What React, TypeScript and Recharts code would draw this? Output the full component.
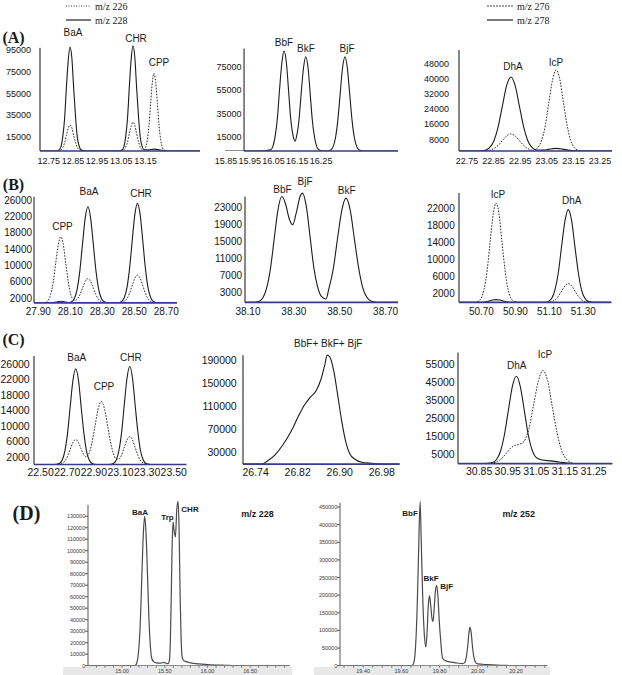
import React from 'react';
import { LineChart, Line, XAxis, YAxis, ReferenceLine } from 'recharts';

type Pt = [number, number];

const SANS = '"Liberation Sans", Arial, Helvetica, sans-serif';
const SERIF = '"Liberation Serif", "Times New Roman", serif';

// ---------------- Row A ----------------
const a1XTicks = [12.75, 12.85, 12.95, 13.05, 13.15];
const a1YTicks = [15000, 35000, 55000, 75000, 95000];
const a1M228: Pt[] = [[12.714,1800],[12.78,1800],[12.793,2870],[12.801,6010],[12.808,14790],[12.816,32970],[12.823,60020],[12.831,86520],[12.838,97800],[12.846,86520],[12.853,60020],[12.861,32970],[12.868,14790],[12.876,6010],[12.883,2870],[12.9,1800],[13.04,1800],[13.053,2880],[13.061,6070],[13.068,14950],[13.076,33360],[13.083,60750],[13.091,87580],[13.098,99000],[13.106,87580],[13.113,60750],[13.121,33360],[13.128,14950],[13.136,6070],[13.143,2900],[13.16,2800],[13.185,3500],[13.21,2700],[13.24,1800],[13.375,1800]];
const a1M226: Pt[] = [[12.714,1800],[12.78,1800],[12.793,2070],[12.801,2850],[12.808,5050],[12.816,9590],[12.823,16360],[12.831,22980],[12.838,25800],[12.846,22980],[12.853,16360],[12.861,9590],[12.868,5050],[12.876,2850],[12.883,2070],[12.9,1800],[13.04,1800],[13.053,2090],[13.061,2960],[13.068,5390],[13.076,10410],[13.083,17870],[13.091,25190],[13.098,28300],[13.106,25190],[13.113,17870],[13.121,10410],[13.128,5390],[13.136,3120],[13.143,2890],[13.15,5020],[13.157,11510],[13.164,25110],[13.171,45350],[13.178,65160],[13.185,73600],[13.192,65160],[13.199,45350],[13.206,25110],[13.213,11510],[13.22,4950],[13.227,2600],[13.24,1800],[13.375,1800]];

const a2XTicks = [15.85, 15.95, 16.05, 16.15, 16.25];
const a2YTicks = [15000, 35000, 55000, 75000];
const a2M252: Pt[] = [[15.846,2700],[16.0,2700],[16.037,3650],[16.047,6470],[16.056,14300],[16.066,30500],[16.075,54700],[16.085,78300],[16.094,88400],[16.104,78300],[16.113,54800],[16.122,30800],[16.132,15900],[16.14,11000],[16.147,15400],[16.157,29300],[16.166,51700],[16.176,74000],[16.185,83500],[16.195,74000],[16.204,51700],[16.213,29000],[16.223,13600],[16.232,6200],[16.242,3600],[16.26,2700],[16.28,2700],[16.29,3600],[16.3,6250],[16.31,13600],[16.32,28900],[16.33,51700],[16.34,74000],[16.35,83500],[16.36,74000],[16.37,51700],[16.38,28900],[16.39,13600],[16.4,6250],[16.41,3600],[16.43,2700],[16.573,2700]];

const a3XTicks = [22.75, 22.85, 22.95, 23.05, 23.15, 23.25];
const a3YTicks = [8000, 16000, 24000, 32000, 40000, 48000];
const a3M278: Pt[] = [[22.72,1900],[22.8,1900],[22.819,2330],[22.835,3610],[22.851,7160],[22.867,14530],[22.883,25490],[22.899,36230],[22.915,40800],[22.931,36230],[22.947,25490],[22.963,14530],[22.979,7160],[22.995,3610],[23.011,2400],[23.04,2360],[23.06,2900],[23.085,3300],[23.11,2900],[23.13,2360],[23.16,2000],[23.2,1900],[23.295,1900]];
const a3M276: Pt[] = [[22.72,1900],[22.8,1900],[22.819,2000],[22.835,2300],[22.851,3120],[22.867,4820],[22.883,7360],[22.899,9840],[22.915,10900],[22.931,9840],[22.947,7360],[22.963,4820],[22.979,3120],[22.995,2300],[23.004,2550],[23.017,3820],[23.031,7660],[23.045,15730],[23.058,27740],[23.072,39500],[23.085,44500],[23.099,39500],[23.112,27740],[23.126,15730],[23.139,7660],[23.153,3770],[23.166,2370],[23.19,1900],[23.295,1900]];

// ---------------- Row B ----------------
const b1XTicks = [27.9, 28.1, 28.3, 28.5, 28.7];
const b1YTicks = [2000, 6000, 10000, 14000, 18000, 22000, 26000];
const b1M228: Pt[] = [[27.873,800],[27.98,800],[28.01,1000],[28.04,1200],[28.07,1000],[28.09,850],[28.108,1060],[28.125,1830],[28.142,3990],[28.159,8450],[28.176,15090],[28.193,21590],[28.21,24360],[28.227,21590],[28.244,15090],[28.261,8450],[28.278,3990],[28.295,1830],[28.312,1060],[28.34,800],[28.4,800],[28.418,1070],[28.435,1870],[28.452,4100],[28.469,8720],[28.486,15600],[28.503,22330],[28.52,25200],[28.537,22330],[28.554,15600],[28.571,8720],[28.588,4100],[28.605,1870],[28.622,1070],[28.65,800],[28.767,800]];
const b1M226: Pt[] = [[27.873,800],[27.92,800],[27.947,980],[27.963,1510],[27.978,2990],[27.994,6060],[28.009,10630],[28.025,15100],[28.04,17000],[28.056,15100],[28.071,10630],[28.087,6060],[28.102,2990],[28.118,1665],[28.133,1440],[28.142,1675],[28.159,2732],[28.176,4409],[28.193,6051],[28.21,6750],[28.227,6051],[28.244,4409],[28.261,2732],[28.278,1605],[28.295,1061],[28.312,866],[28.34,800],[28.4,800],[28.418,875],[28.435,1100],[28.452,1720],[28.469,3010],[28.486,4920],[28.503,6800],[28.52,7600],[28.537,6800],[28.554,4920],[28.571,3010],[28.588,1720],[28.605,1100],[28.622,875],[28.65,800],[28.767,800]];

const b2XTicks = [38.1, 38.3, 38.5, 38.7];
const b2YTicks = [3000, 7000, 11000, 15000, 19000, 23000];
const b2M252: Pt[] = [[38.087,600],[38.109,600],[38.139,700],[38.149,870],[38.165,1680],[38.181,3930],[38.198,8590],[38.214,15520],[38.23,22310],[38.247,25700],[38.263,24100],[38.279,20550],[38.295,19000],[38.311,21960],[38.327,25710],[38.338,26500],[38.355,23100],[38.371,16000],[38.387,8850],[38.404,4200],[38.42,2000],[38.44,1400],[38.453,3940],[38.472,8620],[38.49,15580],[38.509,22400],[38.527,25300],[38.546,22400],[38.564,15580],[38.583,8620],[38.601,3940],[38.62,1680],[38.638,875],[38.658,650],[38.697,600],[38.754,600]];

const b3XTicks = [50.7, 50.9, 51.1, 51.3];
const b3YTicks = [2000, 6000, 10000, 14000, 18000, 22000];
const b3M276: Pt[] = [[50.568,0],[50.66,0],[50.681,260],[50.699,1020],[50.716,3150],[50.734,7570],[50.751,14130],[50.769,20560],[50.786,23300],[50.804,20560],[50.821,14130],[50.839,7570],[50.856,3150],[50.874,1020],[50.891,260],[50.92,0],[51.07,0],[51.094,50],[51.114,190],[51.133,600],[51.153,1430],[51.172,2670],[51.192,3880],[51.211,4400],[51.231,3880],[51.25,2670],[51.27,1430],[51.289,600],[51.309,190],[51.328,50],[51.36,0],[51.465,0]];
const b3M278: Pt[] = [[50.568,0],[50.7,0],[50.74,250],[50.765,550],[50.786,650],[50.81,550],[50.835,250],[50.87,0],[51.07,0],[51.094,240],[51.114,950],[51.133,2940],[51.153,7050],[51.172,13160],[51.192,19150],[51.211,21700],[51.231,19150],[51.25,13160],[51.27,7050],[51.289,2940],[51.309,950],[51.328,240],[51.36,0],[51.465,0]];

// ---------------- Row C ----------------
const c1XTicks = [22.5, 22.7, 22.9, 23.1, 23.3, 23.5];
const c1YTicks = [2000, 6000, 10000, 14000, 18000, 22000, 26000];
const c1M228: Pt[] = [[22.45,0],[22.6,0],[22.64,270],[22.661,1080],[22.681,3340],[22.702,8020],[22.722,14980],[22.743,21800],[22.763,24700],[22.784,21800],[22.804,14980],[22.825,8020],[22.845,3340],[22.866,1080],[22.886,270],[22.92,0],[23.01,0],[23.046,280],[23.067,1110],[23.087,3420],[23.108,8210],[23.128,15340],[23.149,22330],[23.169,25300],[23.19,22330],[23.21,15340],[23.231,8210],[23.251,3420],[23.272,1110],[23.292,280],[23.33,0],[23.595,0]];
const c1M226: Pt[] = [[22.45,0],[22.6,0],[22.64,70],[22.661,280],[22.681,870],[22.702,2090],[22.722,3910],[22.743,5690],[22.763,6450],[22.784,5690],[22.804,4020],[22.825,2480],[22.845,1990],[22.86,2590],[22.884,5360],[22.908,9860],[22.932,14340],[22.956,16250],[22.98,14340],[23.004,9860],[23.028,5300],[23.046,2880],[23.067,1440],[23.087,1360],[23.108,2450],[23.128,4370],[23.149,6350],[23.169,7200],[23.19,6350],[23.21,4370],[23.231,2340],[23.251,970],[23.272,320],[23.292,80],[23.33,0],[23.595,0]];

const c2XTicks = [26.74, 26.82, 26.9, 26.98];
const c2YTicks = [30000, 70000, 110000, 150000, 190000];
const c2M252: Pt[] = [[26.716,10000],[26.752,10000],[26.763,15700],[26.777,26000],[26.792,43300],[26.807,65700],[26.82,89900],[26.832,110600],[26.843,124400],[26.855,136500],[26.864,155500],[26.872,183100],[26.876,198000],[26.881,195200],[26.889,169300],[26.896,129600],[26.904,83000],[26.912,46700],[26.919,27800],[26.929,18300],[26.942,13100],[26.961,11400],[26.986,10000],[27.014,10000]];

const c3XTicks = [30.85, 30.95, 31.05, 31.15, 31.25];
const c3YTicks = [5000, 15000, 25000, 35000, 45000, 55000];
const c3M278: Pt[] = [[30.776,0],[30.87,0],[30.896,540],[30.91,2130],[30.924,6560],[30.938,15750],[30.952,29420],[30.966,42800],[30.98,48500],[30.994,42800],[31.008,29420],[31.022,15750],[31.036,7200],[31.05,3300],[31.07,2000],[31.1,1500],[31.13,900],[31.16,300],[31.19,0],[31.316,0]];
const c3M276: Pt[] = [[30.776,0],[30.86,0],[30.88,60],[30.9,420],[30.915,1290],[30.93,3080],[30.945,5760],[30.96,8540],[30.975,10120],[30.99,10650],[31.007,12360],[31.024,19310],[31.04,32260],[31.057,45860],[31.073,51700],[31.09,45630],[31.106,31360],[31.123,16790],[31.139,7000],[31.156,2270],[31.172,570],[31.19,0],[31.316,0]];

// ---------------- Row D ----------------
const d1XTicks = [14.7,14.8,14.9,15.0,15.1,15.2,15.3,15.4,15.5,15.6,15.7,15.8,15.9,16.0,16.1,16.2,16.3,16.4,16.5,16.6,16.7,16.8,16.9];
const d1XLabels = [15.0, 15.5, 16.0, 16.5];
const d1YTicks = [0,10000,20000,30000,40000,50000,60000,70000,80000,90000,100000,110000,120000,130000];
const d1M228: Pt[] = [[14.601,0],[15.15,0],[15.17,1900],[15.183,5800],[15.199,17600],[15.216,42200],[15.232,78800],[15.249,114700],[15.265,130000],[15.281,114700],[15.298,78800],[15.314,42200],[15.331,17600],[15.347,6500],[15.37,3500],[15.4,2500],[15.45,2300],[15.49,2800],[15.53,1800],[15.545,2200],[15.555,5000],[15.565,20000],[15.575,55000],[15.585,100000],[15.597,125000],[15.61,117000],[15.625,112000],[15.64,135000],[15.655,143000],[15.668,118000],[15.68,60000],[15.692,22000],[15.705,7000],[15.72,4500],[15.75,3500],[15.8,2500],[15.9,1500],[16.0,1000],[16.2,400],[16.4,0],[16.963,0]];

const d2XTicks = [19.3,19.35,19.4,19.45,19.5,19.55,19.6,19.65,19.7,19.75,19.8,19.85,19.9,19.95,20.0,20.05,20.1,20.15,20.2,20.25,20.3,20.35];
const d2XLabels = [19.4, 19.6, 19.8, 20.0, 20.2];
const d2YTicks = [0,50000,100000,150000,200000,250000,300000,350000,400000,450000];
const d2M252: Pt[] = [[19.279,0],[19.6,0],[19.655,0],[19.665,8000],[19.675,60000],[19.683,170000],[19.69,320000],[19.698,466000],[19.705,330000],[19.712,190000],[19.72,90000],[19.728,53000],[19.735,100000],[19.741,170000],[19.747,198500],[19.753,175000],[19.76,135000],[19.766,125600],[19.772,165000],[19.779,215000],[19.785,227000],[19.791,200000],[19.798,130000],[19.806,70000],[19.815,22000],[19.83,14000],[19.86,10000],[19.893,7600],[19.92,6000],[19.93,8000],[19.94,25000],[19.948,60000],[19.954,95000],[19.959,108600],[19.965,95000],[19.971,60000],[19.979,25000],[19.99,8000],[20.0,5000],[20.05,3000],[20.1,1500],[20.16,500],[20.2,0],[20.364,0]];

// ---------------- Panel machinery ----------------
interface SeriesDef { pts: Pt[]; dotted?: boolean }
interface PanelDef {
  box: [number, number, number, number];
  xDomain: [number, number];
  yDomain: [number, number];
  xTicks: number[];
  yTicks: number[];
  xFmt: (v: number) => string;
  yAxisAt: number;
  yAxisTop: number;
  yLabelRight: number;
  xLabelCenter: number;
  fs: number;
  ms?: boolean;
  series: SeriesDef[];
}

const YW = 60, MT = 12, MR = 12, XH = 30;
const f2 = (v: number) => v.toFixed(2);
const fromSet = (set: number[]) => (v: number) => (set.some((s) => Math.abs(s - v) < 1e-6) ? v.toFixed(2) : '');

function Panel({ d }: { d: PanelDef }) {
  const [l, r, t, b] = d.box;
  const w = r - l + YW + MR;
  const h = b - t + MT + XH;
  const ox = l - YW;
  const oy = t - MT;
  const textColor = d.ms ? '#3a3a3a' : '#151515';
  const yTick = (props: any) => (
    <text x={d.yLabelRight - ox} y={props.y + d.fs * 0.36} textAnchor="end" fontSize={d.fs} fontFamily={SANS} fill={textColor}>
      {String(props.payload.value)}
    </text>
  );
  const xTick = (props: any) => {
    const s = d.xFmt(props.payload.value);
    if (!s) return <g />;
    return (
      <text x={props.x} y={d.xLabelCenter - oy + d.fs * 0.36} textAnchor="middle" fontSize={d.fs} fontFamily={SANS} fill={textColor}>
        {s}
      </text>
    );
  };
  const y0 = d.yDomain[0];
  return (
    <div style={{ position: 'absolute', left: ox, top: oy, width: w, height: h }}>
      <LineChart width={w} height={h} margin={{ top: MT, right: MR, bottom: 0, left: 0 }}>
        <XAxis
          type="number"
          dataKey="t"
          domain={d.xDomain}
          ticks={d.xTicks}
          interval={0}
          allowDataOverflow
          axisLine={false}
          tickLine={d.ms ? { stroke: '#777' } : false}
          tickSize={d.ms ? 2 : 0}
          height={XH}
          tick={xTick}
        />
        <YAxis
          type="number"
          domain={d.yDomain}
          ticks={d.yTicks}
          interval={0}
          allowDataOverflow
          width={YW}
          axisLine={false}
          tickLine={d.ms ? { stroke: '#555' } : false}
          tickSize={d.ms ? 3 : 0}
          tick={yTick}
        />
        {d.series.map((s, i) => (
          <Line
            key={i}
            data={s.pts.map(([tt, v]) => ({ t: tt, v }))}
            dataKey="v"
            type="monotone"
            stroke={d.ms ? '#4a4a4a' : s.dotted ? '#2c2c2c' : '#1c1c1c'}
            strokeWidth={d.ms ? 1.2 : s.dotted ? 1 : 1.1}
            strokeDasharray={s.dotted ? '1.6 1.4' : undefined}
            dot={false}
            activeDot={false}
            isAnimationActive={false}
          />
        ))}
        <ReferenceLine
          segment={[{ x: d.yAxisAt, y: y0 }, { x: d.yAxisAt, y: d.yAxisTop }]}
          stroke={d.ms ? '#555' : '#111'}
          strokeWidth={1}
          ifOverflow="visible"
        />
        <ReferenceLine
          segment={[{ x: d.yAxisAt, y: y0 }, { x: d.xDomain[1], y: y0 }]}
          stroke={d.ms ? '#777' : '#3a3a8a'}
          strokeWidth={d.ms ? 1 : 1.6}
          ifOverflow="visible"
        />
      </LineChart>
    </div>
  );
}

const panels: PanelDef[] = [
  { box: [40, 200, 42, 151], xDomain: [12.714, 13.375], yDomain: [1800, 102400], xTicks: a1XTicks, yTicks: a1YTicks, xFmt: f2, yAxisAt: 12.714, yAxisTop: 97000, yLabelRight: 31, xLabelCenter: 161, fs: 9, series: [{ pts: a1M226, dotted: true }, { pts: a1M228 }] },
  { box: [225, 398, 47, 151], xDomain: [15.846, 16.573], yDomain: [2700, 91800], xTicks: a2XTicks, yTicks: a2YTicks, xFmt: f2, yAxisAt: 15.926, yAxisTop: 90500, yLabelRight: 241.5, xLabelCenter: 161, fs: 9, series: [{ pts: a2M252 }] },
  { box: [459, 612, 50, 151], xDomain: [22.72, 23.295], yDomain: [1900, 55000], xTicks: a3XTicks, yTicks: a3YTicks, xFmt: f2, yAxisAt: 22.72, yAxisTop: 55000, yLabelRight: 449, xLabelCenter: 161, fs: 9, series: [{ pts: a3M276, dotted: true }, { pts: a3M278 }] },
  { box: [34, 177, 195.8, 302.7], xDomain: [27.873, 28.767], yDomain: [800, 27000], xTicks: b1XTicks, yTicks: b1YTicks, xFmt: f2, yAxisAt: 27.873, yAxisTop: 26800, yLabelRight: 32, xLabelCenter: 311.7, fs: 10, series: [{ pts: b1M226, dotted: true }, { pts: b1M228 }] },
  { box: [245, 398, 191.3, 302.7], xDomain: [38.087, 38.754], yDomain: [600, 27000], xTicks: b2XTicks, yTicks: b2YTicks, xFmt: f2, yAxisAt: 38.087, yAxisTop: 25700, yLabelRight: 242, xLabelCenter: 311.7, fs: 10, series: [{ pts: b2M252 }] },
  { box: [459.3, 611.7, 193.3, 302.7], xDomain: [50.568, 51.465], yDomain: [0, 25600], xTicks: b3XTicks, yTicks: b3YTicks, xFmt: f2, yAxisAt: 50.568, yAxisTop: 25600, yLabelRight: 455, xLabelCenter: 311.7, fs: 10, series: [{ pts: b3M276, dotted: true }, { pts: b3M278 }] },
  { box: [34.3, 186.7, 355.5, 464], xDomain: [22.45, 23.595], yDomain: [0, 28000], xTicks: c1XTicks, yTicks: c1YTicks, xFmt: f2, yAxisAt: 22.45, yAxisTop: 28000, yLabelRight: 30, xLabelCenter: 471.7, fs: 10.5, series: [{ pts: c1M226, dotted: true }, { pts: c1M228 }] },
  { box: [243.3, 400, 353.9, 464], xDomain: [26.716, 27.014], yDomain: [10000, 200000], xTicks: c2XTicks, yTicks: c2YTicks, xFmt: f2, yAxisAt: 26.716, yAxisTop: 198000, yLabelRight: 237, xLabelCenter: 471.7, fs: 10.5, series: [{ pts: c2M252 }] },
  { box: [458.3, 612.7, 352.4, 464], xDomain: [30.776, 31.316], yDomain: [0, 62000], xTicks: c3XTicks, yTicks: c3YTicks, xFmt: f2, yAxisAt: 30.776, yAxisTop: 61700, yLabelRight: 455, xLabelCenter: 471.7, fs: 10.5, series: [{ pts: c3M276, dotted: true }, { pts: c3M278 }] },
  { box: [88.3, 290, 499.3, 666], xDomain: [14.601, 16.963], yDomain: [0, 145000], xTicks: d1XTicks, yTicks: d1YTicks, xFmt: fromSet(d1XLabels), yAxisAt: 14.601, yAxisTop: 140000, yLabelRight: 85.5, xLabelCenter: 671, fs: 5.5, ms: true, series: [{ pts: d1M228 }] },
  { box: [340.3, 547.7, 500.3, 666], xDomain: [19.279, 20.364], yDomain: [0, 470000], xTicks: d2XTicks, yTicks: d2YTicks, xFmt: fromSet(d2XLabels), yAxisAt: 19.279, yAxisTop: 462000, yLabelRight: 337.5, xLabelCenter: 671, fs: 5.5, ms: true, series: [{ pts: d2M252 }] },
];

interface Note { s: string; x: number; y: number; fs: number; bold?: boolean; serif?: boolean; anchor?: 'start' | 'middle' }
const notes: Note[] = [
  { s: '(A)', x: 13.5, y: 37, fs: 16, bold: true, serif: true },
  { s: '(B)', x: 13.5, y: 184, fs: 16, bold: true, serif: true },
  { s: '(C)', x: 13.5, y: 339, fs: 16, bold: true, serif: true },
  { s: '(D)', x: 26.5, y: 512.5, fs: 20, bold: true, serif: true },
  { s: 'BaA', x: 73, y: 32, fs: 10 },
  { s: 'CHR', x: 136, y: 38, fs: 10 },
  { s: 'CPP', x: 159, y: 62, fs: 10 },
  { s: 'BbF', x: 284, y: 42, fs: 10 },
  { s: 'BkF', x: 306, y: 48, fs: 10 },
  { s: 'BjF', x: 347, y: 48, fs: 10 },
  { s: 'DhA', x: 513, y: 66, fs: 10 },
  { s: 'IcP', x: 556, y: 62, fs: 10 },
  { s: 'CPP', x: 62.5, y: 226, fs: 10 },
  { s: 'BaA', x: 89, y: 191, fs: 10 },
  { s: 'CHR', x: 141, y: 193.5, fs: 10 },
  { s: 'BbF', x: 282.5, y: 189.5, fs: 10 },
  { s: 'BjF', x: 305, y: 181, fs: 10 },
  { s: 'BkF', x: 346.7, y: 190.5, fs: 10 },
  { s: 'IcP', x: 498, y: 194, fs: 10 },
  { s: 'DhA', x: 571.7, y: 200.7, fs: 10 },
  { s: 'BaA', x: 76.7, y: 357, fs: 10 },
  { s: 'CPP', x: 104, y: 386.7, fs: 10 },
  { s: 'CHR', x: 130.8, y: 357, fs: 10 },
  { s: 'BbF+ BkF+ BjF', x: 328.3, y: 343.3, fs: 10 },
  { s: 'DhA', x: 516.7, y: 365, fs: 10 },
  { s: 'IcP', x: 545, y: 354, fs: 10 },
  { s: 'BaA', x: 140, y: 511.7, fs: 8, bold: true },
  { s: 'Trp', x: 167.5, y: 516.7, fs: 8, bold: true },
  { s: 'CHR', x: 190, y: 509.3, fs: 8, bold: true },
  { s: 'm/z 228', x: 257.5, y: 513.7, fs: 9, bold: true },
  { s: 'BbF', x: 410, y: 513.3, fs: 8, bold: true },
  { s: 'BkF', x: 431, y: 578.3, fs: 8, bold: true },
  { s: 'BjF', x: 446.7, y: 586, fs: 8, bold: true },
  { s: 'm/z 252', x: 518.7, y: 513.7, fs: 9, bold: true },
  { s: 'm/z 226', x: 95, y: 6, fs: 10, serif: true, anchor: 'start' },
  { s: 'm/z 228', x: 95, y: 20, fs: 10, serif: true, anchor: 'start' },
  { s: 'm/z 276', x: 517, y: 6, fs: 10, serif: true, anchor: 'start' },
  { s: 'm/z 278', x: 517, y: 20, fs: 10, serif: true, anchor: 'start' },
];

export default function App() {
  return (
    <div style={{ position: 'absolute', left: 0, top: 0, width: 622, height: 675, background: '#fff', overflow: 'hidden' }}>
      <div style={{ position: 'absolute', left: 63, top: 667, width: 229, height: 8, background: '#e8e8e8' }} />
      <div style={{ position: 'absolute', left: 314, top: 667, width: 236, height: 8, background: '#e8e8e8' }} />
      {panels.map((p, i) => (
        <Panel key={i} d={p} />
      ))}
      <svg width={622} height={675} style={{ position: 'absolute', left: 0, top: 0, pointerEvents: 'none' }}>
        <line x1={66} y1={6} x2={91} y2={6} stroke="#444" strokeWidth={1} strokeDasharray="1 1.5" />
        <line x1={66} y1={20} x2={91} y2={20} stroke="#222" strokeWidth={1.2} />
        <line x1={487} y1={6} x2={513} y2={6} stroke="#444" strokeWidth={1} strokeDasharray="2 1" />
        <line x1={487} y1={20} x2={513} y2={20} stroke="#222" strokeWidth={1.2} />
        {notes.map((n, i) => (
          <text
            key={i}
            x={n.x}
            y={n.y + n.fs * 0.35}
            textAnchor={n.anchor || 'middle'}
            fontSize={n.fs}
            fontWeight={n.bold ? 700 : 400}
            fontFamily={n.serif ? SERIF : SANS}
            fill="#1a1a1a"
          >
            {n.s}
          </text>
        ))}
      </svg>
    </div>
  );
}
